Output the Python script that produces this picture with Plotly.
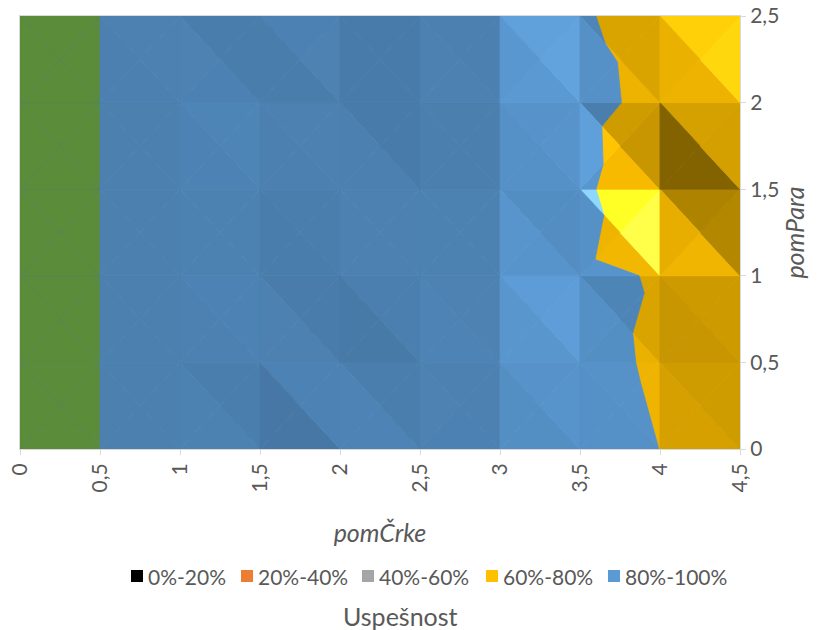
import math
import plotly.graph_objects as go

# Grid of the surface: pomČrke along x, pomPara along y
pom_crke = [0, 0.5, 1, 1.5, 2, 2.5, 3, 3.5, 4, 4.5]
pom_para = [0, 0.5, 1, 1.5, 2, 2.5]

# Uspešnost (success rate) for each pomPara row, one value per pomČrke
uspesnost_para_0_0 = [1.0, 1.0, 0.990, 0.960, 0.990, 0.975, 0.950, 0.870, 0.799, 0.795]
uspesnost_para_0_5 = [1.0, 1.0, 0.990, 0.980, 0.960, 0.975, 0.955, 0.853, 0.777, 0.790]
uspesnost_para_1_0 = [1.0, 1.0, 0.990, 0.970, 0.975, 0.965, 0.950, 0.820, 0.793, 0.790]
uspesnost_para_1_5 = [1.0, 1.0, 0.990, 0.970, 0.970, 0.960, 0.945, 0.849, 0.605, 0.780]
uspesnost_para_2_0 = [1.0, 1.0, 0.990, 0.960, 0.955, 0.970, 0.955, 0.843, 0.760, 0.700]
uspesnost_para_2_5 = [1.0, 1.0, 0.985, 0.980, 0.950, 0.965, 0.955, 0.805, 0.780, 0.615]

uspesnost = [
    uspesnost_para_0_0,
    uspesnost_para_0_5,
    uspesnost_para_1_0,
    uspesnost_para_1_5,
    uspesnost_para_2_0,
    uspesnost_para_2_5,
]

# Value bands of the surface
band_labels = ["0%-20%", "20%-40%", "40%-60%", "60%-80%", "80%-100%"]
band_edges = [0.0, 0.2, 0.4, 0.6, 0.8, 1.0]
band_colors = ["#000000", "#ED7D31", "#A5A5A5", "#FFC000", "#5B9BD5"]
over_max_color = "#70AD47"

# Lighting of the facets: one light from the upper right, low elevation,
# diffuse + ambient, plus a small white highlight for steep lit facets
LIGHT_ELEV = math.radians(25)
LIGHT = (math.cos(LIGHT_ELEV) / math.sqrt(2), math.cos(LIGHT_ELEV) / math.sqrt(2), math.sin(LIGHT_ELEV))
AMBIENT = 0.362
DIFFUSE = 1.061
SPECULAR = 0.5
SHININESS = 12


def hex_rgb(h):
    h = h.lstrip("#")
    return tuple(int(h[i:i + 2], 16) for i in (0, 2, 4))


def shaded(color, k, spec):
    r, g, b = hex_rgb(color)
    return "rgb(%d,%d,%d)" % tuple(
        min(255, max(0, round(c * k + 255 * spec))) for c in (r, g, b)
    )


def facet_light(tri):
    (x0, y0, z0), (x1, y1, z1), (x2, y2, z2) = tri
    ux, uy, uz = x1 - x0, y1 - y0, z1 - z0
    vx, vy, vz = x2 - x0, y2 - y0, z2 - z0
    nx = uy * vz - uz * vy
    ny = uz * vx - ux * vz
    nz = ux * vy - uy * vx
    if nz < 0:
        nx, ny, nz = -nx, -ny, -nz
    n = math.sqrt(nx * nx + ny * ny + nz * nz)
    nx, ny, nz = nx / n, ny / n, nz / n
    d = nx * LIGHT[0] + ny * LIGHT[1] + nz * LIGHT[2]
    rz = 2 * d * nz - LIGHT[2]
    spec = SPECULAR * max(0.0, rz) ** SHININESS if d > 0 else 0.0
    return AMBIENT + DIFFUSE * max(0.0, d), spec


def clip(poly, f):
    out = []
    for k in range(len(poly)):
        p = poly[k]
        q = poly[(k + 1) % len(poly)]
        fp, fq = f(p), f(q)
        if fp >= 0:
            out.append(p)
        if (fp >= 0) != (fq >= 0):
            t = fp / (fp - fq)
            out.append(tuple(p[m] + t * (q[m] - p[m]) for m in range(3)))
    return out


def area(poly):
    s = 0.0
    for k in range(len(poly)):
        x0, y0 = poly[k][0], poly[k][1]
        x1, y1 = poly[(k + 1) % len(poly)][0], poly[(k + 1) % len(poly)][1]
        s += x0 * y1 - x1 * y0
    return abs(s) / 2


bands = [(band_edges[i], band_edges[i + 1], band_colors[i]) for i in range(len(band_colors))]
bands.append((1.0, 10.0, over_max_color))

fig = go.Figure()

for j in range(len(pom_para) - 1):
    for i in range(len(pom_crke) - 1):
        xa, xb = pom_crke[i], pom_crke[i + 1]
        ya, yb = pom_para[j], pom_para[j + 1]
        bl = (xa, ya, uspesnost[j][i])
        br = (xb, ya, uspesnost[j][i + 1])
        tr = (xb, yb, uspesnost[j + 1][i + 1])
        tl = (xa, yb, uspesnost[j + 1][i])
        c = ((xa + xb) / 2, (ya + yb) / 2, (bl[2] + br[2] + tr[2] + tl[2]) / 4)
        for tri in ((bl, br, c), (br, tr, c), (tr, tl, c), (tl, bl, c)):
            k, spec = facet_light(tri)
            for lo, hi, col in bands:
                poly = clip(list(tri), lambda p, lo=lo: p[2] - lo)
                if len(poly) < 3:
                    continue
                if hi < 10:
                    poly = clip(poly, lambda p, hi=hi: hi - p[2])
                if len(poly) < 3 or area(poly) < 1e-7:
                    continue
                fc = shaded(col, k, spec)
                fig.add_trace(go.Scatter(
                    x=[p[0] for p in poly] + [poly[0][0]],
                    y=[p[1] for p in poly] + [poly[0][1]],
                    mode="lines",
                    fill="toself",
                    fillcolor=fc,
                    line=dict(color=fc, width=0.8),
                    hoverinfo="skip",
                    showlegend=False,
                ))


def tick_text(v):
    return ("%g" % v).replace(".", ",")


AXIS_GREY = "#D9D9D9"
TEXT_GREY = "#595959"

fig.update_layout(
    width=820,
    height=630,
    margin=dict(l=20, r=80, t=16, b=181, autoexpand=False),
    paper_bgcolor="white",
    plot_bgcolor="white",
    font=dict(family="Lato", color=TEXT_GREY),
    showlegend=False,
    xaxis=dict(
        range=[0, 4.5],
        automargin=False,
        tickvals=pom_crke,
        ticktext=[tick_text(v) for v in pom_crke],
        tickangle=-90,
        ticks="outside",
        ticklen=5,
        tickcolor=AXIS_GREY,
        showline=True,
        linecolor=AXIS_GREY,
        linewidth=1,
        mirror=True,
        showgrid=False,
        zeroline=False,
        tickfont=dict(size=21, color=TEXT_GREY),
        title=dict(text="<i>pomČrke</i>", font=dict(size=25, color=TEXT_GREY), standoff=32),
    ),
    yaxis=dict(
        range=[0, 2.5],
        automargin=False,
        side="right",
        tickvals=pom_para,
        ticktext=[tick_text(v) for v in pom_para],
        ticks="outside",
        ticklen=5,
        tickcolor=AXIS_GREY,
        showline=True,
        linecolor=AXIS_GREY,
        linewidth=1,
        mirror=True,
        showgrid=False,
        zeroline=False,
        tickfont=dict(size=21, color=TEXT_GREY),
        title=dict(text="<i>pomPara</i>", font=dict(size=25, color=TEXT_GREY), standoff=6),
    ),
)


# Legend of the value bands, drawn below the plot
def px_x(px):
    return (px - 20) / 720


def px_y(py):
    return (449 - py) / 433


legend_left = [131, 241, 362, 486, 608]
legend_mid_y = 576
for left, label, col in zip(legend_left, band_labels, band_colors):
    fig.add_shape(
        type="rect", xref="paper", yref="paper",
        x0=px_x(left), x1=px_x(left + 12),
        y0=px_y(legend_mid_y + 6), y1=px_y(legend_mid_y - 6),
        fillcolor=col, line=dict(width=0),
    )
    fig.add_annotation(
        xref="paper", yref="paper",
        x=px_x(left + 15), y=px_y(legend_mid_y),
        xanchor="left", yanchor="middle",
        text=label, showarrow=False,
        font=dict(size=21, color=TEXT_GREY),
    )

fig.add_annotation(
    xref="paper", yref="paper",
    x=px_x(400), y=px_y(616),
    xanchor="center", yanchor="middle",
    text="Uspešnost", showarrow=False,
    font=dict(size=25, color=TEXT_GREY),
)

fig.write_html("out.html")
